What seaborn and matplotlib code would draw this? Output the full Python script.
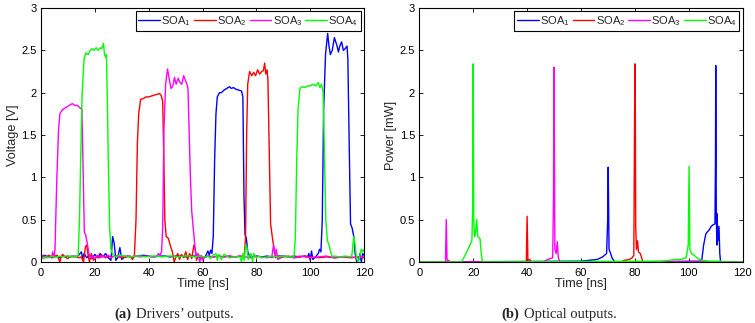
import numpy as np
import pandas as pd
import matplotlib
matplotlib.use("Agg")
import matplotlib.pyplot as plt
import seaborn as sns

# ---------------- data ----------------
series_names = ["SOA$_1$", "SOA$_2$", "SOA$_3$", "SOA$_4$"]
series_colors = ["#0000ff", "#ff0000", "#ff00ff", "#00ff00"]

# (a) driver voltages [V]
v1_t = [0, 1, 2, 3, 4, 5, 6, 7, 8, 9, 10, 11, 12, 13, 14, 15, 15.5, 16, 17, 18, 19, 20, 21, 22, 23, 24, 25, 26,
        26.6, 27.2, 27.8, 28.5, 29.3, 30, 31, 32, 34, 36, 38, 40, 42, 44, 46, 48, 50, 52, 54, 56, 58, 60,
        61, 62, 62.5, 63, 63.5, 64, 64.5, 65, 65.5, 66.3, 67, 68, 69, 70, 70.7, 71.5, 72.5, 73.5, 74.5, 75,
        75.4, 75.8, 76.3, 76.8, 77.5, 78, 80, 82, 84, 86, 88, 90, 92, 94, 96, 98, 99, 99.5, 100, 100.5, 101,
        102, 103, 103.5, 104, 104.5, 105, 105.7, 106.5, 107, 107.5, 108.2, 109, 109.5, 110, 110.5, 111,
        111.7, 112.3, 113, 113.7, 114, 114.6, 115, 115.6, 116.2, 116.7, 117.3, 118, 118.5, 119, 119.5, 120]
v1_v = [0.05, 0.08, 0.07, 0.06, 0.07, 0.06, 0.07, 0.05, 0.07, 0.06, 0.07, 0.06, 0.07, 0.06, 0.08, 0.12, 0.04, 0.10,
        0.05, 0.08, 0.04, 0.09, 0.05, 0.10, 0.06, 0.10, 0.05, 0.02,
        0.30, 0.22, 0.02, 0.05, 0.17, 0.03, 0.06, 0.07, 0.06, 0.07, 0.08, 0.07, 0.06, 0.07, 0.07, 0.06, 0.07,
        0.07, 0.06, 0.07, 0.07, 0.06,
        0.06, 0.13, 0.08, 0.14, 0.10, 0.30, 1.20, 1.75, 1.95, 2.00, 2.00, 2.03, 2.05, 2.07, 2.05, 2.06, 2.04,
        2.03, 2.02, 1.95,
        0.80, 0.32, 0.28, 0.12, 0.07, 0.06, 0.07, 0.06, 0.07, 0.06, 0.07, 0.07, 0.06, 0.07, 0.06, 0.07, 0.06,
        0.10, 0.02, 0.13, 0.03,
        0.06, 0.10, 0.15, 0.12, 0.50, 1.80, 2.45, 2.70, 2.55, 2.45, 2.50, 2.65, 2.60, 2.55, 2.48, 2.55,
        2.60, 2.50, 2.52, 2.55, 2.40, 1.20, 0.45, 0.40, 0.30, 0.10, 0.00, 0.02, 0.10, 0.00, 0.10, 0.08]

v2_t = [0, 1, 2, 3, 4, 5, 6, 7, 7.5, 8, 9, 10, 11, 12, 13, 14, 15, 15.8, 16.5, 17, 17.5, 18, 18.7, 19.5, 20.5,
        21.5, 22.5, 24, 25, 26, 28, 30, 32, 33, 34, 34.7, 35.3, 35.8, 36.3, 37, 38, 39, 40, 41, 42, 43, 44,
        44.6, 45.2, 45.6, 46, 46.5, 47.3, 48, 48.8, 49.5, 50, 50.8, 51.5, 52.2, 53, 53.8, 54.5, 55.2, 56,
        56.8, 57.3, 57.8, 58.5, 59, 60, 62, 64, 66, 68, 70, 72, 74, 75.5, 76, 76.4, 76.8, 77.5, 78.3, 79,
        79.7, 80.5, 81.2, 82, 82.6, 83.1, 83.5, 84, 84.3, 84.8, 85.3, 86, 86.6, 87.2, 88, 89, 90, 92, 94,
        96, 98, 100, 103, 106, 109, 112, 115, 118, 120]
v2_v = [0.05, 0.07, 0.06, 0.08, 0.05, 0.07, 0.08, 0.00, 0.06, 0.09, 0.06, 0.04, 0.07, 0.06, 0.07, 0.05, 0.06,
        0.00, 0.18, 0.20, 0.08, 0.00, 0.10, 0.02, 0.06,
        0.05, 0.08, 0.05, 0.07, 0.06, 0.07, 0.05, 0.06, 0.07, 0.03, 0.08, 0.50, 1.40, 1.75, 1.92, 1.93, 1.95,
        1.95, 1.96, 1.97, 1.98, 1.99,
        1.97, 1.90, 1.30, 0.50, 0.30, 0.28, 0.20, 0.12, 0.00, 0.05, 0.10, 0.03, 0.09, 0.05, 0.12, 0.03, 0.10,
        0.04, 0.20, 0.15, 0.02, 0.09, 0.05, 0.04, 0.07, 0.06, 0.07, 0.06, 0.07, 0.06, 0.07, 0.06, 0.30, 1.50,
        2.10, 2.25, 2.20, 2.24,
        2.20, 2.27, 2.22, 2.25, 2.26, 2.35, 2.22, 2.27, 2.15, 1.30, 0.45, 0.28, 0.15, 0.05, 0.07, 0.05, 0.06,
        0.07, 0.05, 0.06, 0.07, 0.06, 0.05, 0.06, 0.05, 0.06, 0.05, 0.06, 0.05]

v3_t = [0, 1, 2, 3, 4, 4.3, 4.8, 5.2, 5.8, 6.5, 7, 8, 9, 10, 11, 11.7, 12.5, 13.5, 14.5, 15.2, 15.7, 16.1, 16.6,
        17.2, 17.8, 18.4, 19, 20, 21, 22, 23, 24, 25, 26, 27, 29, 31, 33, 35, 37, 39, 41, 43, 43.6, 44.2, 44.8,
        45.2, 45.7, 46.3, 47, 47.7, 48.3, 49, 49.6, 50.2, 51, 51.6, 52.3, 53, 53.6, 54.2, 54.6, 55, 55.5, 56,
        56.7, 57.3, 57.8, 58.3, 59, 59.5, 60, 60.5, 62, 64, 66, 68, 70, 72, 74, 76, 78, 80, 82, 84, 85, 85.7,
        86.4, 86.9, 87.4, 88, 89, 90, 92, 94, 96, 98, 100, 103, 106, 109, 112, 115, 118, 120]
v3_v = [0.03, 0.07, 0.05, 0.06, 0.05, 0.12, 0.05, 0.15, 0.90, 1.55, 1.75, 1.80, 1.82, 1.84, 1.86, 1.87, 1.85, 1.85,
        1.82, 1.80, 1.00, 0.35, 0.32,
        0.22, 0.10, 0.05, 0.07, 0.04, 0.08, 0.05, 0.07, 0.06, 0.08, 0.05, 0.07, 0.06, 0.07, 0.06, 0.07, 0.06,
        0.07, 0.06, 0.07, 0.10, 0.08, 0.12,
        0.40, 1.60, 2.10, 2.28, 2.15, 2.05, 2.08, 2.18, 2.10, 2.17, 2.12, 2.10, 2.20, 2.15, 2.10, 2.05, 1.60,
        1.00, 0.60,
        0.35, 0.15, 0.05, 0.10, 0.00, 0.08, 0.02, 0.05, 0.07, 0.06, 0.07, 0.06, 0.07, 0.06, 0.07, 0.06, 0.05,
        0.07, 0.06, 0.05, 0.06, 0.05,
        0.20, 0.08, 0.15, 0.03, 0.05, 0.07, 0.06, 0.05, 0.07, 0.06, 0.05, 0.06, 0.07, 0.05, 0.06, 0.06, 0.05,
        0.06]

v4_t = [0, 1, 2, 3, 4, 5, 6, 7, 8, 9, 10, 11, 12, 13, 13.8, 14.3, 14.8, 15.3, 16, 16.7, 17.5, 18.3, 19, 19.7,
        20.5, 21.2, 22, 22.6, 23.2, 23.6, 24, 24.3, 24.6, 25, 25.5, 26, 26.5, 27, 28, 29, 31, 33, 35, 37, 39,
        41, 43, 45, 47, 49, 51, 53, 55, 57, 59, 61, 62, 63, 64, 65, 65.5, 66, 67, 68, 69, 70, 72, 74, 74.5,
        75, 75.5, 76, 76.5, 77, 78, 78.6, 79, 80, 81, 82, 84, 86, 88, 90, 92, 93, 94, 94.5, 95, 95.5, 96.2,
        97, 98, 99, 100, 101, 102, 103, 103.6, 104.2, 104.8, 105.3, 105.8, 106.4, 107, 107.6, 108.2, 109,
        111, 113, 115, 115.5, 116.2, 116.7, 117.2, 117.8, 118.3, 119, 119.5, 120]
v4_v = [0.06, 0.04, 0.06, 0.05, 0.07, 0.06, 0.06, 0.07, 0.06, 0.07, 0.07, 0.06, 0.07, 0.06, 0.08, 0.50, 1.30,
        2.00, 2.40, 2.47, 2.45, 2.50, 2.52, 2.50,
        2.53, 2.50, 2.53, 2.52, 2.58, 2.45, 2.42, 2.45, 2.00, 1.20, 0.40, 0.15, 0.10, 0.07, 0.06, 0.08, 0.07,
        0.06, 0.07, 0.07, 0.06,
        0.07, 0.07, 0.06, 0.07, 0.07, 0.06, 0.07, 0.07, 0.06, 0.07, 0.06, 0.07, 0.04, 0.08, 0.10, 0.02, 0.09,
        0.03, 0.09, 0.07, 0.05, 0.06, 0.06, 0.00,
        0.10, 0.02, 0.20, 0.18, 0.03, 0.10, 0.00, 0.10, 0.05, 0.07, 0.05, 0.06, 0.07, 0.06, 0.07, 0.06, 0.06,
        0.06, 0.30, 1.20, 1.80, 2.05,
        2.07, 2.06, 2.08, 2.08, 2.10, 2.08, 2.12, 2.06, 2.10, 2.00, 1.30, 0.50, 0.25, 0.20, 0.12, 0.06, 0.07,
        0.06, 0.07, 0.06, 0.08, 0.30, 0.20, 0.05, 0.00, 0.05, 0.15, 0.12, 0.15]

# (b) optical powers [mW]
p1_t = [0, 60, 63, 66, 68, 69.5, 69.9, 70.1, 70.4, 71, 71.5, 72.5, 104, 104.8, 105.5, 106.3, 107, 107.6, 108.3,
        109, 109.7, 109.9, 110.0, 110.2, 110.4, 110.5, 110.8, 111.2, 111.5, 111.8, 120]
p1_v = [0.0, 0.01, 0.02, 0.03, 0.06, 0.10, 0.5, 1.12, 0.15, 0.10, 0.05, 0.0, 0.01, 0.02, 0.20, 0.33, 0.36, 0.38,
        0.42, 0.44, 0.45, 1.2, 2.32, 0.6, 0.20, 0.57, 0.25, 0.42, 0.10, 0.0, 0.0]

p2_t = [0, 39.7, 40.0, 40.3, 41, 41.5, 75, 76, 78, 79, 79.6, 79.9, 80.0, 80.1, 80.3, 80.6, 81.0, 81.3, 82, 83, 120]
p2_v = [0.0, 0.0, 0.54, 0.02, 0.03, 0.0, 0.0, 0.02, 0.03, 0.05, 0.08, 1.8, 2.34, 2.3, 0.4, 0.15, 0.25, 0.12,
        0.10, 0.0, 0.0]

p3_t = [0, 9.7, 10.0, 10.3, 11, 11.5, 46, 47, 48.5, 49.5, 49.8, 50.0, 50.3, 50.8, 51.2, 51.6, 52.2, 120]
p3_v = [0.0, 0.0, 0.50, 0.02, 0.02, 0.0, 0.0, 0.02, 0.04, 0.05, 0.8, 2.30, 0.15, 0.10, 0.24, 0.05, 0.0, 0.0]

p4_t = [0, 15.7, 17, 18.5, 19.5, 19.8, 20.0, 20.2, 20.5, 20.9, 21.3, 21.7, 22.5, 23.0, 23.4, 90, 93, 95, 97, 99,
        99.8, 100.1, 100.4, 101, 102, 103, 104.5, 108, 112, 112.5, 120]
p4_v = [0.0, 0.0, 0.08, 0.18, 0.25, 0.6, 2.34, 0.5, 0.30, 0.35, 0.50, 0.30, 0.28, 0.10, 0.0, 0.01, 0.02, 0.03,
        0.03, 0.05, 0.2, 1.13, 0.15, 0.10, 0.08, 0.05, 0.02, 0.01, 0.01, 0.0, 0.0]

x_ticks = [0, 20, 40, 60, 80, 100, 120]
y_ticks = [0, 0.5, 1, 1.5, 2, 2.5, 3]
y_ticklabels = ["0", "0.5", "1", "1.5", "2", "2.5", "3"]

# ---------------- style ----------------
sns.set_style("ticks")
plt.rcParams["font.family"] = ["Liberation Sans", "DejaVu Sans"]
plt.rcParams["mathtext.default"] = "regular"
plt.rcParams["xtick.direction"] = "in"
plt.rcParams["ytick.direction"] = "in"
plt.rcParams["axes.edgecolor"] = "black"
plt.rcParams["axes.linewidth"] = 0.8

def make_df(ts, vs):
    frames = []
    for name, t, v in zip(series_names, ts, vs):
        frames.append(pd.DataFrame({"t": t, "v": v, "series": name}))
    return pd.concat(frames, ignore_index=True)

df_v = make_df([v1_t, v2_t, v3_t, v4_t], [v1_v, v2_v, v3_v, v4_v])
df_p = make_df([p1_t, p2_t, p3_t, p4_t], [p1_v, p2_v, p3_v, p4_v])
palette = dict(zip(series_names, series_colors))

fig = plt.figure(figsize=(7.55, 3.23), dpi=100)
axL = fig.add_axes([41 / 755, 1 - 262 / 323, 323 / 755, 254 / 323])
axR = fig.add_axes([419.3 / 755, 1 - 262 / 323, 323.4 / 755, 254 / 323])

for ax, df, ylab in [(axL, df_v, "Voltage [V]"), (axR, df_p, "Power [mW]")]:
    sns.lineplot(data=df, x="t", y="v", hue="series", palette=palette, estimator=None,
                 sort=False, linewidth=1.0, ax=ax, legend=False)
    ax.set_xlim(0, 120)
    ax.set_ylim(0, 3)
    ax.set_xticks(x_ticks)
    ax.set_xticklabels([str(x) for x in x_ticks])
    ax.set_yticks(y_ticks)
    ax.set_yticklabels(y_ticklabels)
    ax.tick_params(axis="both", which="both", labelsize=8, length=3, width=0.6,
                   top=True, right=True, colors="black")
    ax.tick_params(axis="x", pad=4)
    ax.tick_params(axis="y", pad=3)
    ax.set_xlabel("Time [ns]", fontsize=9.2, labelpad=0)
    ax.set_ylabel(ylab, fontsize=9.2, labelpad=2)
    for s in ax.spines.values():
        s.set_visible(True)
        s.set_color("black")
    handles = [plt.Line2D([], [], color=c, lw=1.0) for c in series_colors]
    leg = ax.legend(handles, series_names, loc="upper right", ncol=4, fontsize=8,
                    frameon=True, fancybox=False, edgecolor="black", framealpha=1,
                    handlelength=1.95, handletextpad=0.1, columnspacing=0.3,
                    borderpad=0.25, borderaxespad=0.3)
    leg.get_frame().set_linewidth(0.8)

# captions
fig.canvas.draw()
renderer = fig.canvas.get_renderer()
for x0, tag, rest in [(114, "(a)", "Drivers\u2019 outputs."), (501, "(b)", "Optical outputs.")]:
    t1 = fig.text(x0 / 755, 1 - 318 / 323, tag, fontsize=10.5, fontweight="bold",
                  family=["Liberation Serif"], va="baseline", ha="left")
    bb = t1.get_window_extent(renderer)
    fig.text((bb.x1 + 5) / 755, 1 - 318 / 323, rest, fontsize=10.5,
             family=["Liberation Serif"], va="baseline", ha="left")

fig.savefig("out.png", dpi=100)
